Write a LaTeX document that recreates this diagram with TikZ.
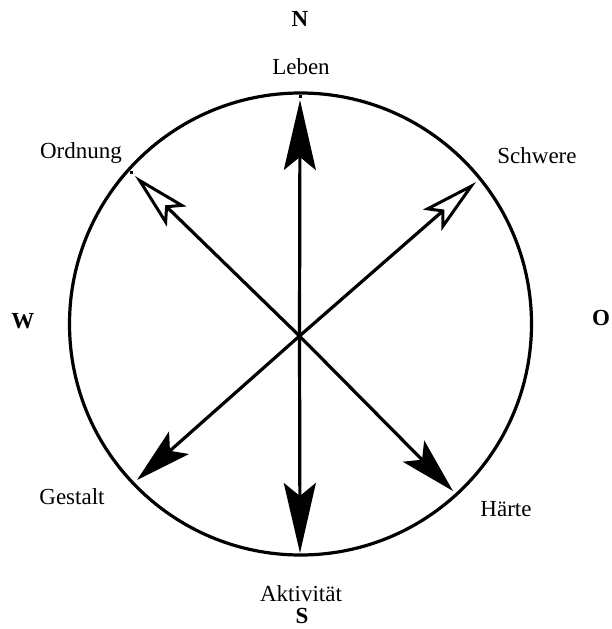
\documentclass[tikz,border=0pt]{standalone}
\usepackage{fontspec}
\setmainfont{Liberation Serif}
\usetikzlibrary{arrows.meta}
\tikzset{
  lab/.style={anchor=base, inner sep=0pt, font=\fontsize{23}{27}\selectfont},
  dir/.style={anchor=base, inner sep=0pt, font=\fontsize{23}{27}\selectfont\bfseries},
  ring/.style={line width=3.2pt},
  bigarrow/.style={line width=3.2pt, -{Stealth[length=70pt,width=32pt,inset=13pt]}},
  diagarrow/.style={line width=3.2pt, -{Stealth[length=56pt,width=30pt,inset=12pt]}},
  openarrow/.style={line width=3.2pt, -{Stealth[open,length=58pt,width=28pt,inset=12pt,line width=3pt]}},
}
\begin{document}
\begin{tikzpicture}[x=1pt,y=-1pt]
\useasboundingbox (0,0) rectangle (611,629);
\coordinate (c) at (300.5,324);
\draw[ring] (c) circle (231pt);
\coordinate (o) at (299.5,336);
\coordinate (leben) at (300,100);
\coordinate (akt) at (300,553);
\coordinate (ord) at (135,176);
\coordinate (sch) at (476,182);
\coordinate (ges) at (137,480);
\coordinate (har) at (453,491);
\draw[bigarrow] (o) -- (leben);
\draw[bigarrow] (o) -- (akt);
\draw[diagarrow] (o) -- (ges);
\draw[diagarrow] (o) -- (har);
\draw[openarrow] (o) -- (ord);
\draw[openarrow] (o) -- (sch);
\fill (298.5,95) rectangle +(3,3);
\fill (129.5,170.5) rectangle +(3,3);
\node[dir] (n) at (300,27) {N};
\node[dir] (s) at (302,623) {S};
\node[dir] (w) at (23,328) {W};
\node[dir] (e) at (601,325) {O};
\node[lab] (lleben) at (301,74) {Leben};
\node[lab] (lakt) at (301,601) {Aktivität};
\node[lab] (lord) at (81,158) {Ordnung};
\node[lab] (lsch) at (537,163) {Schwere};
\node[lab] (lges) at (72,504) {Gestalt};
\node[lab] (lhar) at (506,516) {Härte};
\end{tikzpicture}
\end{document}
